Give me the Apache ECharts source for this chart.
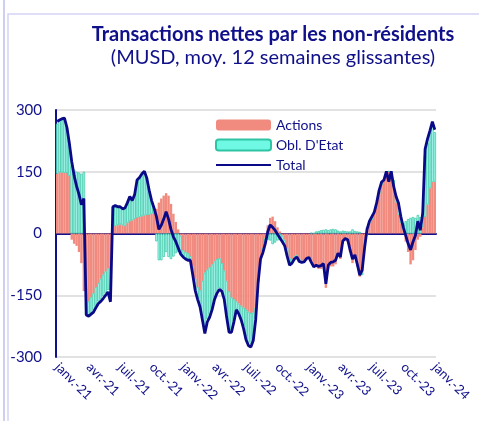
<!DOCTYPE html>
<html>
<head>
<meta charset="utf-8">
<script src="https://cdn.jsdelivr.net/npm/echarts@6/dist/echarts.min.js"></script>
<style>
  html, body { margin: 0; padding: 0; background: #fff; }
  #chart { width: 479px; height: 421px; }
</style>
</head>
<body>
<div id="chart"></div>
<script>
// weekly values, 12-week moving average, Jan 2021 -> Jan 2024
var tickLabels = ['janv.-21', 'avr.-21', 'juil.-21', 'oct.-21', 'janv.-22', 'avr.-22', 'juil.-22',
    'oct.-22', 'janv.-23', 'avr.-23', 'juil.-23', 'oct.-23', 'janv.-24'];

var actions = [
    145, 148, 148, 147, 147, 140, -15, -25, -30, -45, -72, -140, -168,
    -165, -155, -145, -130, -120, -110, -100, -92, -85, -78, 15, 18, 20,
    22, 20, 18, 25, 30, 32, 35, 38, 40, 42, 44, 45, 45,
    48, 50, 60, 75, 85, 92, 98, 92, 72, 48, 28, 10, -5,
    -40, -45, -48, -55, -80, -110, -130, -138, -115, -95, -88, -82, -75,
    -68, -62, -60, -72, -90, -115, -140, -155, -160, -165, -170, -175, -180,
    -185, -190, -193, -192, -180, -110, -55, -35, -12, 20, 38, 41, 30,
    15, 5, -5, -15, -35, -60, -62, -55, -52, -62, -66, -66, -60,
    -58, -72, -82, -82, -86, -86, -82, -132, -85, -80, -80, -75, -55,
    -62, -25, -18, -20, -45, -72, -58, -80, -105, -95, -25, 15, 25,
    33, 50, 70, 95, 118, 130, 143, 150, 145, 120, 75, 45, 25,
    10, -20, -45, -75, -65, -40, -15, -8, 15, 40, 70, 110, 125,
    126
];

var oblEtat = [
    122, 125, 128, 130, 110, 78, 165, 155, 150, 148, 145, 150, -28,
    -33, -38, -42, -45, -45, -50, -52, -52, -52, -60, 50, 50, 45,
    43, 40, 44, 50, 60, 48, 60, 92, 96, 103, 107, 90, 60,
    32, 12, -19, -65, -65, -57, -45, -57, -62, -56, -48, -45, -45,
    -15, -15, -15, -8, -18, -25, -28, -38, -90, -140, -120, -115, -105,
    -88, -78, -72, -64, -66, -82, -95, -80, -50, -18, -22, -30, -45,
    -65, -75, -75, -62, -25, -8, -5, -8, -10, -15, -17, -26, -22,
    -17, -16, -15, -15, -20, -17, -10, -7, -5, -6, -4, -3, -1,
    0, 2, 1, 5, 6, 8, 9, 10, 8, 10, 11, 10, 7,
    5, 7, 6, 5, 5, 10, 6, 5, 4, -6, -10, -5, 5,
    8, 2, 5, 10, 7, 0, 8, 2, 6, 10, 18, 30, 20,
    15, 30, 35, 38, 40, 38, 45, 40, 35, 150, 150, 135, 145,
    120
];

var total = [
    272, 276, 279, 280, 258, 220, 175, 140, 115, 95, 70, 85, -198,
    -201, -196, -191, -180, -170, -165, -158, -150, -142, -166, 65, 68, 65,
    65, 60, 62, 75, 90, 80, 95, 130, 136, 145, 151, 135, 105,
    80, 62, 41, 10, 20, 35, 53, 35, 10, -8, -20, -35, -50,
    -57, -62, -65, -65, -100, -138, -160, -178, -210, -243, -215, -203, -185,
    -160, -145, -136, -140, -160, -203, -240, -240, -215, -185, -195, -210, -231,
    -258, -272, -276, -260, -210, -120, -62, -46, -24, 5, 21, 15, 8,
    -2, -11, -20, -30, -55, -77, -72, -62, -57, -68, -70, -69, -61,
    -58, -70, -81, -77, -80, -78, -73, -122, -77, -70, -69, -65, -48,
    -57, -18, -12, -15, -40, -62, -52, -75, -101, -89, -35, 10, 30,
    41, 52, 75, 105, 125, 130, 151, 126, 151, 115, 90, 74, 40,
    15, -5, -25, -40, -20, -5, 30, 8, 49, 205, 230, 250, 272,
    252
];

var weeks = [];
var start = Date.UTC(2021, 0, 1);
for (var i = 0; i < total.length; i++) {
    weeks.push(new Date(start + i * 7 * 86400000).toISOString().slice(0, 10));
}

var navy = '#10108a';
var font = 'Lato';

var chart = echarts.init(document.getElementById('chart'));

chart.setOption({
    animation: false,
    textStyle: { fontFamily: font, color: navy },
    title: {
        text: 'Transactions nettes par les non-résidents',
        subtext: '(MUSD, moy. 12 semaines glissantes)',
        left: 268,
        top: 20,
        textAlign: 'center',
        itemGap: 3,
        textStyle: { fontFamily: font, fontSize: 20, fontWeight: 'bold', color: navy },
        subtextStyle: { fontFamily: font, fontSize: 20, color: navy }
    },
    legend: {
        orient: 'vertical',
        left: 210,
        top: 113,
        itemWidth: 55,
        itemHeight: 11,
        itemGap: 6,
        textStyle: { fontFamily: font, fontSize: 14, color: navy },
        data: [
            'Actions',
            { name: 'Obl. D\'Etat', itemStyle: { color: '#6ff8e4' } },
            { name: 'Total', itemStyle: { opacity: 0 } }
        ]
    },
    grid: { left: 56, right: 43, top: 110, bottom: 64, outerBoundsMode: 'none' },
    xAxis: {
        type: 'category',
        data: weeks,
        axisLine: { onZero: true, lineStyle: { color: navy, width: 2 } },
        axisTick: { show: false },
        axisLabel: {
            interval: function (index) { return index % 13 === 0; },
            formatter: function (value, index) { return tickLabels[index / 13]; },
            rotate: -45,
            fontSize: 13,
            color: navy,
            fontFamily: font,
            margin: 8
        }
    },
    yAxis: {
        type: 'value',
        min: -300,
        max: 300,
        interval: 150,
        axisLine: { show: true, lineStyle: { color: navy, width: 2 } },
        axisTick: { show: false },
        axisLabel: { fontSize: 15, color: navy, fontFamily: font, margin: 14 },
        splitLine: { lineStyle: { color: '#d9d9d9', width: 1.5 } }
    },
    series: [
        {
            name: 'Actions',
            type: 'bar',
            stack: 'flux',
            data: actions,
            barCategoryGap: '0%',
            itemStyle: { color: '#f28b7f' }
        },
        {
            name: 'Obl. D\'Etat',
            type: 'bar',
            stack: 'flux',
            data: oblEtat,
            itemStyle: { color: '#b4faf2', borderColor: '#2ec4a4', borderWidth: 0.7 }
        },
        {
            name: 'Total',
            type: 'line',
            data: total,
            symbol: 'none',
            lineStyle: { color: '#0a0a88', width: 2.8 },
            itemStyle: { color: '#0a0a88' },
            z: 5
        }
    ],
    graphic: [
        { type: 'line', shape: { x1: 4, y1: 0, x2: 4, y2: 421 }, style: { stroke: '#cfcff3', lineWidth: 2 } },
        { type: 'polyline', shape: { points: [[8, 421], [8, 14], [479, 14]] }, style: { stroke: '#d4d4f4', lineWidth: 1.5, fill: null } }
    ]
});
</script>
</body>
</html>
